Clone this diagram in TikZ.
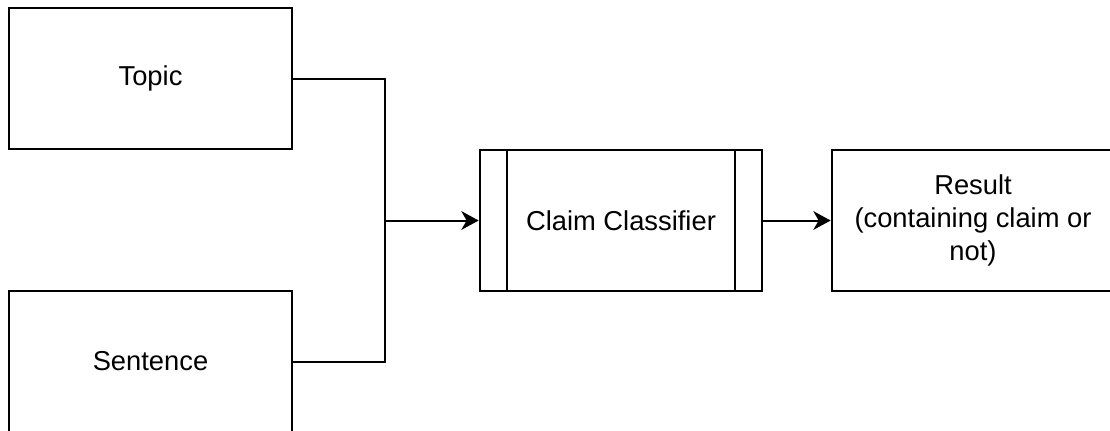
\documentclass[tikz,border=0pt]{standalone}
\usepackage{fontspec}
\setmainfont{Liberation Sans}
\usetikzlibrary{arrows.meta}

\tikzset{
  box/.style={draw, line width=1.5pt, minimum width=212pt, minimum height=105.75pt,
    inner sep=0pt, font=\fontsize{20.5}{24.5}\selectfont, align=center},
  link/.style={line width=1.5pt},
  tip/.style={link, -{Stealth[length=13pt, width=14pt, inset=4pt]}}
}

\begin{document}
\begin{tikzpicture}[x=0.75pt,y=0.75pt,yscale=-1,xscale=1]
    \useasboundingbox (0,0) rectangle (1110,430);
    \clip (0,0) rectangle (1110,430);

    %Shape: Rectangle [Topic]
    \node [box] (topic) at (150.5,78.5) {Topic};
    %Shape: Rectangle [Sentence]
    \node [box] (sentence) at (150.5,361.5) {Sentence};
    %Shape: Process [Claim Classifier]
    \node [box] (classifier) at (621,220.5) {Claim Classifier};
    \draw [link] ([xshift=21pt]classifier.north west) -- ([xshift=21pt]classifier.south west);
    \draw [link] ([xshift=-21pt]classifier.north east) -- ([xshift=-21pt]classifier.south east);
    %Shape: Rectangle [Result]
    \node [box] (result) at (973,220.5) {Result\\(containing claim or\\not)};

    % Connectors
    \coordinate (join) at (385,220.5);
    \draw [link] (topic.east) -| (join);
    \draw [link] (sentence.east) -| (join);
    \draw [tip] (join) -- (classifier.west);
    \draw [tip] (classifier.east) -- (result.west);
\end{tikzpicture}
\end{document}
